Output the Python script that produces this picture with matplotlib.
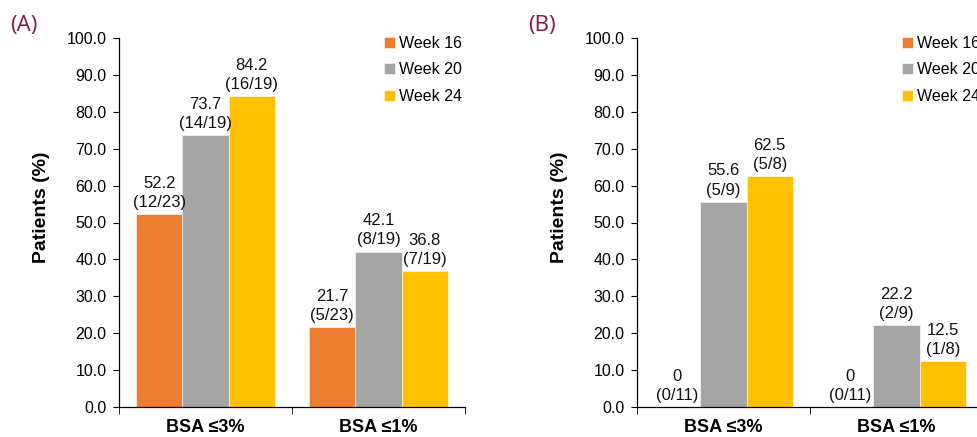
import matplotlib.pyplot as plt
import numpy as np

plt.rcParams["font.family"] = ["Liberation Sans", "DejaVu Sans"]

categories = ["BSA \u22643%", "BSA \u22641%"]
weeks = ["Week 16", "Week 20", "Week 24"]
colors = ["#ED7D31", "#A5A5A5", "#FFC000"]

# panel A: percentages and counts per week, per category
a_values = [[52.2, 21.7], [73.7, 42.1], [84.2, 36.8]]
a_counts = [["12/23", "5/23"], ["14/19", "8/19"], ["16/19", "7/19"]]

# panel B
b_values = [[0, 0], [55.6, 22.2], [62.5, 12.5]]
b_counts = [["0/11", "0/11"], ["5/9", "2/9"], ["5/8", "1/8"]]

yticks = np.arange(0, 101, 10)

W, H = 978, 437


def fmt_value(v):
    return "0" if v == 0 else f"{v:.1f}"


def draw_panel(fig, left, letter, values, counts):
    ax = fig.add_axes([left / W, 1 - 407 / H, 346 / W, 369 / H])
    x = np.arange(len(categories))
    width = 0.267
    for i, (wk, col) in enumerate(zip(weeks, colors)):
        pos = x + (i - 1) * width
        ax.bar(pos, values[i], width, color=col, edgecolor="white",
               linewidth=0.4, label=wk)
        for p, v, c in zip(pos, values[i], counts[i]):
            ax.annotate(f"{fmt_value(v)}\n({c})", (p, v), xytext=(0, 3),
                        textcoords="offset points", ha="center", va="bottom",
                        fontsize=12, linespacing=1.35, color="#111111")
    ax.set_xlim(-0.5, 1.5)
    ax.set_ylim(0, 100)
    ax.set_yticks(yticks)
    ax.set_yticklabels([f"{t:.1f}" for t in yticks], fontsize=11.5)
    ax.set_xticks(x)
    ax.set_xticklabels(categories, fontsize=13, fontweight="bold")
    ax.set_xticks([-0.5, 0.5, 1.5], minor=True)
    ax.tick_params(axis="x", which="major", length=0, pad=9)
    ax.tick_params(axis="x", which="minor", length=5, direction="out")
    ax.tick_params(axis="y", length=4, direction="out", pad=5)
    for s in ("top", "right"):
        ax.spines[s].set_visible(False)
    for s in ("left", "bottom"):
        ax.spines[s].set_linewidth(0.9)
    ax.legend(loc="upper left", bbox_to_anchor=(0.765, 1.006), frameon=False,
              fontsize=11.5, handlelength=0.7, handleheight=0.7,
              handletextpad=0.25, labelspacing=0.72, borderpad=0,
              borderaxespad=0)
    fig.text((left - 77) / W, 1 - 207 / H, "Patients (%)", rotation=90,
             ha="center", va="center", fontsize=14, fontweight="bold")
    fig.text((left - 109) / W, 1 - 26 / H, letter, fontsize=16,
             color="#8B1A3A", family=["Open Sans", "DejaVu Sans"],
             va="center", ha="left")
    return ax


fig = plt.figure(figsize=(W / 100, H / 100), dpi=100)
draw_panel(fig, 119, "(A)", a_values, a_counts)
draw_panel(fig, 637, "(B)", b_values, b_counts)
fig.savefig("out.png", dpi=100)
